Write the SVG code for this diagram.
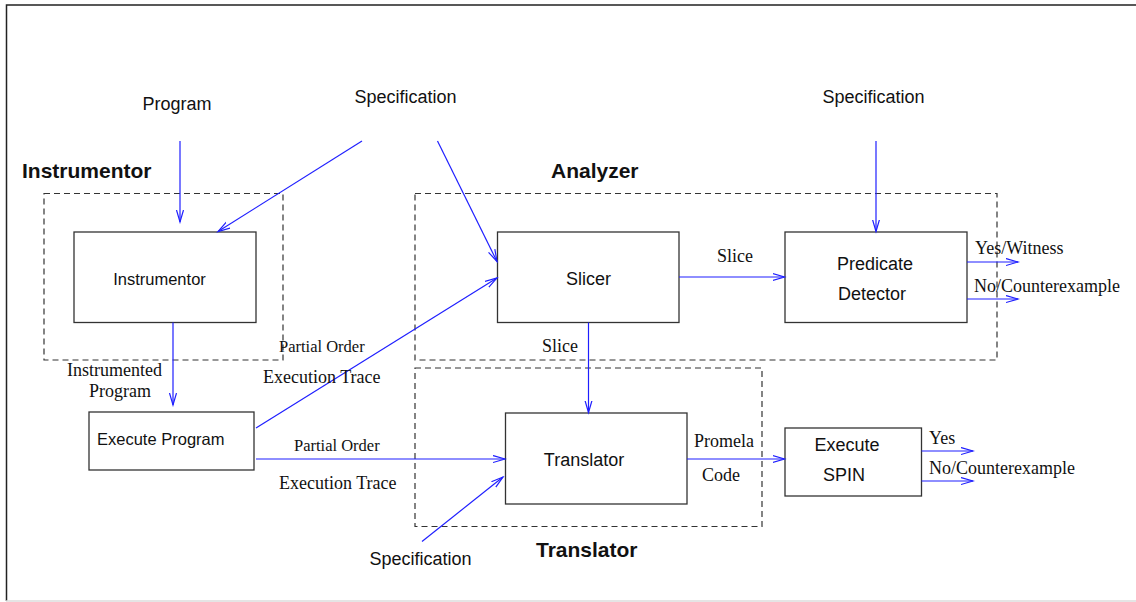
<svg xmlns="http://www.w3.org/2000/svg" width="1136" height="602" viewBox="0 0 1136 602">
  <style>
    .box { fill: #fff; stroke: #333; stroke-width: 1.3; }
    .group { fill: none; stroke: #333; stroke-width: 1.2; stroke-dasharray: 6 4; }
    .edge { fill: none; stroke: #1f1fff; stroke-width: 1.2; marker-end: url(#arrow); }
    .sans { font-family: "Liberation Sans", Arial, sans-serif; font-size: 18px; fill: #111; }
    .bold { font-family: "Liberation Sans", Arial, sans-serif; font-size: 21px; font-weight: bold; fill: #111; }
    .serif { font-family: "Liberation Serif", "Times New Roman", serif; font-size: 18px; fill: #111; }
    .small { font-size: 16.5px; }
  </style>
  <defs>
    <marker id="arrow" markerUnits="userSpaceOnUse" markerWidth="14" markerHeight="10" refX="12" refY="4" orient="auto">
      <path d="M0,0.5 L12,4 L0,7.5" fill="none" stroke="#1f1fff" stroke-width="1.2"/>
    </marker>
  </defs>

  <rect width="1136" height="602" fill="#fff"/>
  <!-- outer frame -->
  <path d="M6.5,601 L6.5,5 L1136,5" fill="none" stroke="#222" stroke-width="1.5"/>
  <line x1="6" y1="601" x2="1136" y2="601" stroke="#ddd" stroke-width="1.5"/>

  <!-- dashed stage groups -->
  <g id="instrumentor-stage">
    <rect class="group" x="44" y="193.5" width="239" height="166.5"/>
    <text class="bold" x="22" y="178">Instrumentor</text>
  </g>
  <g id="analyzer-stage">
    <rect class="group" x="415" y="193.5" width="582" height="166.5"/>
    <text class="bold" x="551" y="178">Analyzer</text>
  </g>
  <g id="translator-stage">
    <rect class="group" x="415" y="368" width="347" height="158.5"/>
    <text class="bold" x="536" y="557">Translator</text>
  </g>

  <!-- inputs -->
  <g id="program-input">
    <text class="sans" x="177" y="110" text-anchor="middle">Program</text>
  </g>
  <g id="spec-1">
    <text class="sans" x="405.5" y="103" text-anchor="middle">Specification</text>
  </g>
  <g id="spec-2">
    <text class="sans" x="873.5" y="103" text-anchor="middle">Specification</text>
  </g>
  <g id="spec-3">
    <text class="sans" x="420.5" y="565" text-anchor="middle">Specification</text>
  </g>

  <!-- process nodes -->
  <g id="instrumentor">
    <rect class="box" x="74" y="232" width="182" height="90.5"/>
    <text class="sans small" x="159.5" y="285" text-anchor="middle">Instrumentor</text>
  </g>
  <g id="execute-program">
    <rect class="box" x="89" y="412" width="165" height="58"/>
    <text class="sans small" x="97" y="445">Execute Program</text>
  </g>
  <g id="slicer">
    <rect class="box" x="497.5" y="232" width="181.5" height="90.5"/>
    <text class="sans" x="588.5" y="285" text-anchor="middle">Slicer</text>
  </g>
  <g id="predicate-detector">
    <rect class="box" x="785" y="232" width="182" height="90.5"/>
    <text class="sans" x="875" y="270" text-anchor="middle">Predicate</text>
    <text class="sans" x="872" y="300" text-anchor="middle">Detector</text>
  </g>
  <g id="translator">
    <rect class="box" x="505.5" y="413" width="181.5" height="91"/>
    <text class="sans" x="584" y="466" text-anchor="middle">Translator</text>
  </g>
  <g id="execute-spin">
    <rect class="box" x="785" y="428" width="136.5" height="68"/>
    <text class="sans" x="847" y="451" text-anchor="middle">Execute</text>
    <text class="sans" x="844" y="481" text-anchor="middle">SPIN</text>
  </g>

  <!-- connectors -->
  <g id="connectors">
    <line class="edge" x1="180" y1="141" x2="180" y2="222"/>
    <line class="edge" x1="362" y1="141" x2="218" y2="231.5"/>
    <line class="edge" x1="437.5" y1="141" x2="497" y2="261.5"/>
    <line class="edge" x1="876" y1="141" x2="876" y2="231.5"/>
    <line class="edge" x1="679" y1="277" x2="784.5" y2="277"/>
    <line class="edge" x1="967" y1="262" x2="1018" y2="262"/>
    <line class="edge" x1="967" y1="299" x2="1018" y2="299"/>
    <line class="edge" x1="173" y1="322.5" x2="173" y2="405"/>
    <line class="edge" x1="256" y1="428" x2="497" y2="278"/>
    <line class="edge" x1="256" y1="459" x2="505" y2="459"/>
    <line class="edge" x1="588.5" y1="322.5" x2="588.5" y2="412.5"/>
    <line class="edge" x1="422" y1="541.5" x2="503" y2="477"/>
    <line class="edge" x1="687" y1="459" x2="784.5" y2="459"/>
    <line class="edge" x1="921.5" y1="451" x2="973" y2="451"/>
    <line class="edge" x1="921.5" y1="481" x2="973" y2="481"/>

    <!-- connector labels -->
    <text class="serif" x="735" y="262" text-anchor="middle">Slice</text>
    <text class="serif" x="975" y="254">Yes/Witness</text>
    <text class="serif" x="974" y="292">No/Counterexample</text>
    <text class="serif" x="114.5" y="376" text-anchor="middle">Instrumented</text>
    <text class="serif" x="120" y="397" text-anchor="middle">Program</text>
    <text class="serif small" x="279" y="352">Partial Order</text>
    <text class="serif" x="263" y="383">Execution Trace</text>
    <text class="serif small" x="294" y="451">Partial Order</text>
    <text class="serif" x="279" y="489">Execution Trace</text>
    <text class="serif" x="560" y="352" text-anchor="middle">Slice</text>
    <text class="serif" x="694" y="447">Promela</text>
    <text class="serif" x="702" y="481">Code</text>
    <text class="serif" x="929" y="444">Yes</text>
    <text class="serif" x="929" y="474">No/Counterexample</text>
  </g>
</svg>
